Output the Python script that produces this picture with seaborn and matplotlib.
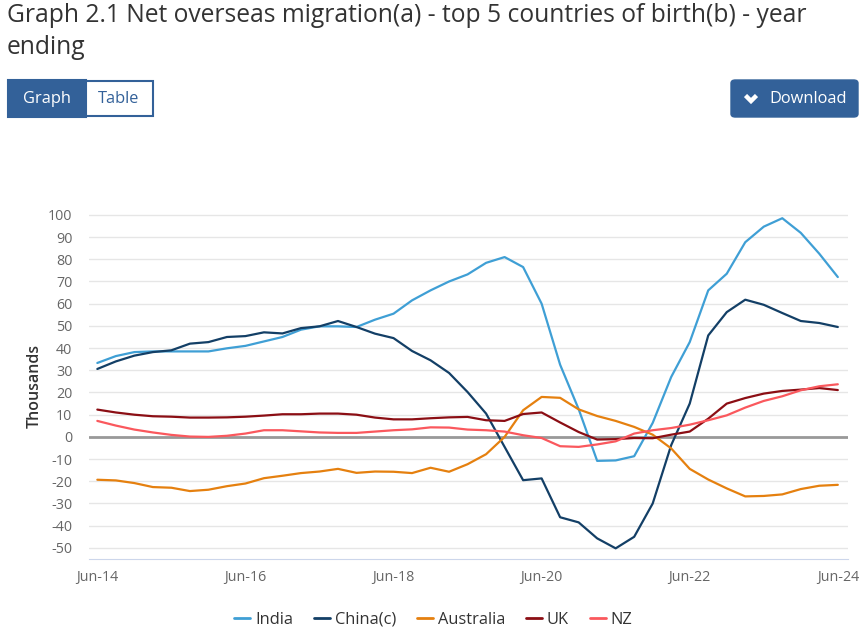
import numpy as np
import pandas as pd
import matplotlib.pyplot as plt
import seaborn as sns
from matplotlib.patches import Rectangle, FancyBboxPatch
from matplotlib.lines import Line2D

# quarters, year ending Jun-14 .. Jun-24
quarters = [d.strftime("%b-%y") for d in pd.date_range("2014-06-30", "2024-06-30", freq="QE")]

india = [33.3, 36.4, 38.2, 38.5, 38.5, 38.5, 38.5, 39.9, 41.0, 43.0, 45.0, 48.3, 49.8,
         49.8, 49.5, 52.8, 55.5, 61.5, 66.0, 70.0, 73.2, 78.4, 81.0, 76.5, 60.0, 32.5,
         12.5, -10.8, -10.6, -8.7, 6.3, 27.0, 42.7, 66.0, 73.5, 87.7, 94.7, 98.5, 91.9,
         82.5, 72.0]
china = [30.6, 34.0, 36.6, 38.2, 39.0, 42.0, 42.7, 45.0, 45.4, 47.1, 46.6, 49.0, 49.8,
         52.2, 49.5, 46.5, 44.5, 38.7, 34.5, 28.8, 20.2, 10.5, -4.5, -19.5, -18.7, -36.2,
         -38.5, -45.7, -50.2, -45.0, -30.0, -3.7, 15.0, 45.7, 56.2, 61.8, 59.5, 55.8,
         52.2, 51.3, 49.5]
australia = [-19.3, -19.6, -20.8, -22.6, -22.9, -24.4, -23.8, -22.2, -21.0, -18.6, -17.5,
             -16.3, -15.6, -14.4, -16.2, -15.6, -15.7, -16.3, -13.9, -15.7, -12.3, -7.8,
             0.0, 12.0, 18.0, 17.6, 12.4, 9.4, 7.2, 4.5, 1.0, -5.2, -14.4, -19.2, -23.2,
             -26.8, -26.6, -25.9, -23.5, -22.0, -21.6]
uk = [12.3, 11.0, 10.0, 9.3, 9.1, 8.7, 8.7, 8.8, 9.1, 9.6, 10.2, 10.2, 10.5,
      10.5, 10.0, 8.7, 7.9, 7.9, 8.4, 8.8, 9.0, 7.5, 7.2, 10.3, 11.0, 6.5, 2.2,
      -1.2, -1.0, -0.5, -0.6, 1.0, 2.4, 8.2, 15.0, 17.5, 19.5, 20.7, 21.3, 22.0, 21.1]
nz = [7.2, 5.1, 3.3, 2.0, 0.9, 0.15, 0.0, 0.5, 1.5, 3.0, 3.0, 2.5, 2.0,
      1.8, 1.8, 2.4, 3.0, 3.4, 4.3, 4.2, 3.3, 3.0, 2.4, 0.75, -0.5, -4.2, -4.5,
      -3.4, -2.0, 1.5, 3.0, 4.0, 5.5, 7.5, 9.7, 13.2, 16.2, 18.3, 21.0, 22.8, 23.7]

series = {"India": india, "China(c)": china, "Australia": australia, "UK": uk, "NZ": nz}
colors = {"India": "#3f9fd5", "China(c)": "#133f66", "Australia": "#e5800f",
          "UK": "#8b0e14", "NZ": "#fa585d"}

df = pd.concat([pd.DataFrame({"q": np.arange(len(quarters)), "value": v, "country": k})
                for k, v in series.items()], ignore_index=True)

sns.set_style("white")
plt.rcParams["font.family"] = ["Open Sans", "DejaVu Sans"]
plt.rcParams["axes.unicode_minus"] = False

fig = plt.figure(figsize=(8.67, 6.42), dpi=100)
ax = fig.add_axes([89/867, 1-559/642, (848-89)/867, (559-214)/642])

sns.lineplot(data=df, x="q", y="value", hue="country", palette=colors,
             linewidth=1.6, ax=ax, legend=False, zorder=3)

ax.set_xlim(-0.45, 40.55)
ax.set_ylim(-55, 100.4)
ax.set_yticks(range(-50, 101, 10))
ax.set_yticklabels([str(t) for t in range(-50, 101, 10)], color="#666666", fontsize=10.3)
xt = list(range(0, len(quarters), 8))
ax.set_xticks(xt)
ax.set_xticklabels([quarters[i] for i in xt], color="#666666", fontsize=10.3)
ax.tick_params(axis="y", length=0, pad=12)
ax.tick_params(axis="x", length=0, pad=8)
ax.grid(axis="y", color="#e6e6e6", linewidth=1)
ax.axhline(0, color="#999999", linewidth=2, zorder=2)
for s in ["top", "right", "left"]:
    ax.spines[s].set_visible(False)
ax.spines["bottom"].set_color("#ccd6eb")
ax.set_xlabel("")
ax.set_ylabel("Thousands", fontsize=11.5, color="#333333", labelpad=4, fontweight="semibold")

# title
title_kw = dict(fontsize=17.7, color="#333333", va="center", ha="left")
fig.text(7/867, 1-16/642, "Graph 2.1 Net overseas migration(a) - top 5 countries of birth(b) - year",
         **title_kw)
fig.text(7/867, 1-48/642, "ending", **title_kw)

# buttons
blue = "#336199"
fig.patches.append(Rectangle((8/867, 1-117/642), 78/867, 37/642, transform=fig.transFigure,
                             facecolor=blue, edgecolor=blue, lw=1.5))
fig.patches.append(Rectangle((86/867, 1-116/642), 67/867, 35/642, transform=fig.transFigure,
                             facecolor="white", edgecolor=blue, lw=1.5))
fig.text(47/867, 1-99/642, "Graph", color="white", fontsize=11.8, ha="center", va="center")
fig.text(119/867, 1-99/642, "Table", color=blue, fontsize=11.8, ha="center", va="center")
fig.patches.append(FancyBboxPatch((731/867, 1-117/642), 127/867, 37/642, transform=fig.transFigure,
                                  boxstyle="round,pad=0,rounding_size=0.005",
                                  facecolor=blue, edgecolor=blue))
fig.lines.append(Line2D([745.5/867, 751/867, 756.5/867], [1-95.5/642, 1-101/642, 1-95.5/642],
                        transform=fig.transFigure, color="white", lw=3.2,
                        solid_capstyle="butt", solid_joinstyle="miter"))
fig.text(769/867, 1-99/642, "Download", color="white", fontsize=11.8, ha="left", va="center")

# legend
handles = [Line2D([0], [0], color=colors[k], lw=2) for k in series]
fig.legend(handles, list(series.keys()), loc="center", bbox_to_anchor=(0.5, 1-620/642),
           ncol=5, frameon=False, fontsize=11.8, handlelength=0.95, handletextpad=0.3,
           columnspacing=1.3, labelcolor="#333333")

fig.savefig("out.png", dpi=100)
